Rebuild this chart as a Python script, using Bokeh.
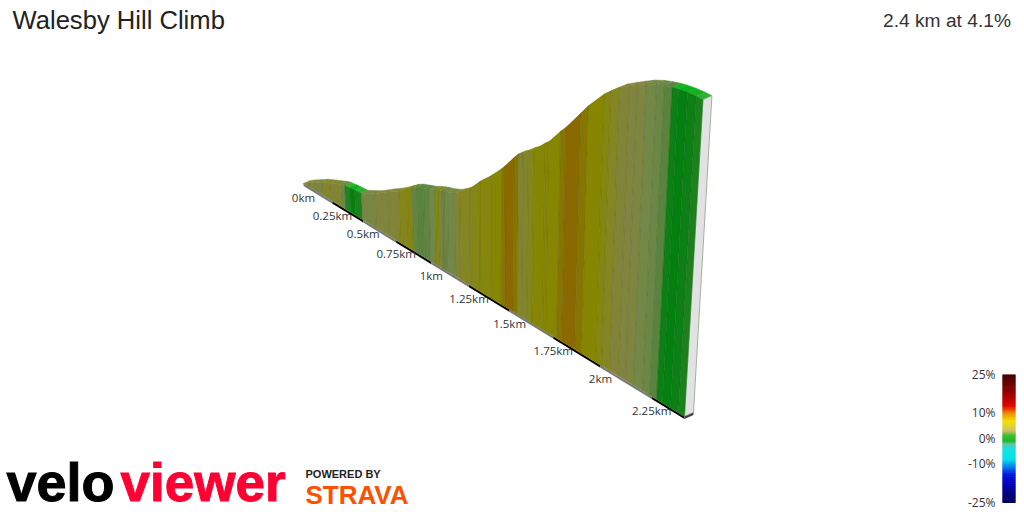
from bokeh.plotting import figure
from bokeh.models import Range1d, ColumnDataSource
from bokeh.core.properties import value
from bokeh.embed import file_html
from bokeh.resources import INLINE
import numpy as np

title_text = "Walesby Hill Climb"
summary_text = "2.4 km at 4.1%"
distance_km = [0, .05, .105, .165, .234, .333, .36, .40, .44, .494, .60, .70, .78, .84, .875, .91, .955, .994,
               1.034, 1.06, 1.08, 1.10, 1.115, 1.16, 1.195, 1.26, 1.32, 1.385, 1.45, 1.47, 1.52, 1.545, 1.57,
               1.60, 1.63, 1.69, 1.706, 1.768, 1.795, 1.866, 1.902, 1.975, 2.005, 2.045, 2.09, 2.124, 2.163,
               2.207, 2.24, 2.273, 2.30, 2.337, 2.373, 2.40]
elevation_m = [0, 1.8, 3.6, 5.6, 7.3, 9.7, 10.1, 10.4, 10.6, 10.9, 14.0, 17.8, 20.7, 23.4, 25, 26.1, 27, 27.8,
               29, 29.6, 30, 30.3, 30.6, 31.7, 33.1, 36.3, 40.7, 44.7, 49.3, 50.9, 55.4, 57.4, 58.4,
               60.2, 61.4, 65.4, 66.2, 71.7, 73.8, 80.5, 84.0, 89.8, 91.6, 93.8, 95.5, 96.7, 98,
               99, 99.4, 99.7, 99.8, 99.7, 99.4, 99]
gradient_pct = [3.5, 3, 2.5, 3.5, 3.3, 1.8, .4, 0, .3, 2.5, 3, 3.2, 4, 4.5, 1.5, 1.2, 1.4, 2, 4.5, 3, 1.5, 2.5, 2,
                3.3, 3.8, 4.2, 4.6, 5, 6, 7.5, 6, 3.5, 3.5, 4, 4.8, 5, 5, 6, 7.5, 6, 5, 4.5, 3.8, 3.2, 3, 2.8,
                2.2, 1.8, 1.2, .1, 0, .1, .3]
tick_km = [0, .25, .5, .75, 1, 1.25, 1.5, 1.75, 2, 2.25]
tick_labels = ["0km", "0.25km", "0.5km", "0.75km", "1km", "1.25km", "1.5km", "1.75km", "2km", "2.25km"]
scale_ticks = [25, 10, 0, -10, -25]
scale_labels = ["25%", "10%", "0%", "-10%", "-25%"]

# colour scale stops of the gradient key (percent, r, g, b)
key_stops = [(-25, 0, 0, 80), (-18, 0, 0, 180), (-14, 0, 20, 225), (-11, 0, 120, 235), (-8, 0, 225, 235),
             (-4, 20, 225, 225), (-2, 100, 195, 170), (-0.8, 20, 190, 30), (1.5, 60, 190, 50),
             (3, 200, 190, 100), (5, 225, 210, 50), (7, 240, 225, 0), (10, 240, 140, 0),
             (13, 225, 0, 0), (18, 150, 0, 0), (25, 65, 0, 0)]
# wall shading of the same scale
wall_stops = [(0, 4, 128, 16), (1, 85, 130, 60), (2, 112, 136, 72), (3, 128, 132, 62), (4, 132, 134, 26),
              (5, 134, 134, 0), (6, 134, 118, 0), (7.5, 138, 106, 0), (10, 150, 80, 0)]

def ramp(stops, v):
    s = np.array(stops, float)
    return np.stack([np.interp(v, s[:, 0], s[:, i]) for i in (1, 2, 3)], axis=-1)

def hexes(c):
    return ["#%02x%02x%02x" % tuple(int(round(min(255, a))) for a in row) for row in c]

# ---- view projection (page pixels)
X0, Y0, X1, Y1, TOTAL = 303.0, 183.0, 684.0, 416.0, 2.4
W = 1.414
PX_PER_M = 3.2
LEAN, LEAN_C = 0.0003, 490.0
BACK_X, BACK_Y = 9.0, -4.0

def project(d, z=0.0):
    d = np.asarray(d, float); z = np.asarray(z, float)
    u = d / TOTAL
    den = W - (W - 1) * u
    f = u / den
    bx = X0 + (X1 - X0) * f
    by = Y0 + (Y1 - Y0) * f
    h = z * PX_PER_M / den
    return bx + (bx - LEAN_C) * LEAN * h, by - h, 1.0 / den

p = figure(width=1024, height=512, x_range=Range1d(0, 1024), y_range=Range1d(512, 0),
           output_backend="svg", toolbar_location=None, min_border=0, outline_line_color=None,
           background_fill_color="white", border_fill_color="white")
p.axis.visible = False
p.grid.visible = False

d = np.array(distance_km); z = np.array(elevation_m); g = np.array(gradient_pct)
tx, ty, sc = project(d, z)
bx, by, _ = project(d)
wall = ramp(wall_stops, g)
top = wall * np.where(g < 1, 1.32, 1.02)[:, None] + np.where(g < 1, 8.0, 0.0)[:, None]

# ground band, alternating between ticks
BAND = 2.5
edges = list(tick_km) + [TOTAL]
for i in range(len(edges) - 1):
    ds = np.array([edges[i], edges[i + 1]])
    ex, ey, _ = project(ds)
    p.patch(list(ex) + list(ex[::-1]), list(ey) + list(ey[::-1] + BAND),
            fill_color="#000000" if i % 2 else "#777777", line_color=None)

# top surface
tops = [[tx[i] , tx[i + 1], tx[i + 1] + BACK_X * sc[i + 1], tx[i] + BACK_X * sc[i]] for i in range(len(g))]
topy = [[ty[i] , ty[i + 1], ty[i + 1] + BACK_Y * sc[i + 1], ty[i] + BACK_Y * sc[i]] for i in range(len(g))]
p.patches(tops, topy, fill_color=hexes(top), line_color=hexes(top), line_width=0.5)

# end cap and foot
ex = [tx[-1], tx[-1] + BACK_X * sc[-1], bx[-1] + BACK_X * sc[-1], bx[-1]]
ey = [ty[-1], ty[-1] + BACK_Y * sc[-1], by[-1] + BACK_Y * sc[-1], by[-1]]
p.patch(ex, ey, fill_color="#e2e2e2", line_color="#8f9f8f", line_width=0.8)
p.patch([bx[-1], bx[-1] + BACK_X * sc[-1], bx[-1] + BACK_X * sc[-1], bx[-1]],
        [by[-1], by[-1] + BACK_Y * sc[-1], by[-1] + BACK_Y * sc[-1] + BAND, by[-1] + BAND],
        fill_color="#444444", line_color=None)

# wall columns
wxs = [[tx[i], tx[i + 1], bx[i + 1], bx[i]] for i in range(len(g))]
wys = [[ty[i], ty[i + 1], by[i + 1], by[i]] for i in range(len(g))]
wc = hexes(wall)
p.patches(wxs, wys, fill_color=wc, line_color=wc, line_width=0.4)
p.multi_line([[tx[i], bx[i]] for i in range(1, len(d) - 1)], [[ty[i], by[i]] for i in range(1, len(d) - 1)],
             line_color="#303030", line_alpha=0.22, line_width=0.7)

# tick labels
lx, ly, _ = project(tick_km)
p.text(lx, ly + 13.8, text=tick_labels, text_font=value("Open Sans"), text_font_size="11.5px",
       text_color="#333333", text_align="center", text_baseline="middle")

# gradient key
KEY_L, KEY_R, KEY_0, KEY_PX = 1002, 1015, 438.5, 2.56
levels = np.arange(-25, 25, 0.25)
p.quad(left=KEY_L, right=KEY_R, top=KEY_0 - (levels + 0.25) * KEY_PX - 0.6, bottom=KEY_0 - levels * KEY_PX,
       fill_color=hexes(ramp(key_stops, levels + .125)), line_color=None)
p.text(995, KEY_0 - np.array(scale_ticks) * KEY_PX - 0.8, text=scale_labels, text_font=value("Open Sans"),
       text_font_size="12px", text_color="#333333", text_align="right", text_baseline="middle")

# heading
p.text([12], [19.5], text=[title_text], text_font=value("Liberation Sans"), text_font_size="25.6px",
       text_color="#222222", text_align="left", text_baseline="middle")
p.text([1010.5], [19.5], text=[summary_text], text_font=value("Liberation Sans"), text_font_size="19.2px",
       text_color="#333333", text_align="right", text_baseline="middle")

# brand marks
p.text([6], [481.6], text=["velo"], text_font=value("Liberation Sans"), text_font_style="bold",
       text_font_size="54px", text_color="#000000", text_baseline="middle",
       text_outline_color="#000000")
p.text([120], [481.9], text=["viewer"], text_font=value("Liberation Sans"), text_font_style="bold",
       text_font_size="53px", text_color="#ff0033", text_baseline="middle",
       text_outline_color="#ff0033")
p.text([305], [473.5], text=["POWERED BY"], text_font=value("Liberation Sans"), text_font_style="bold",
       text_font_size="11px", text_color="#222222", text_baseline="middle")
p.text([305], [494], text=["STRAVA"], text_font=value("Liberation Sans"), text_font_style="bold",
       text_font_size="26px", text_color="#fc5200", text_baseline="middle")

open("out.html", "w").write(file_html(p, INLINE))
